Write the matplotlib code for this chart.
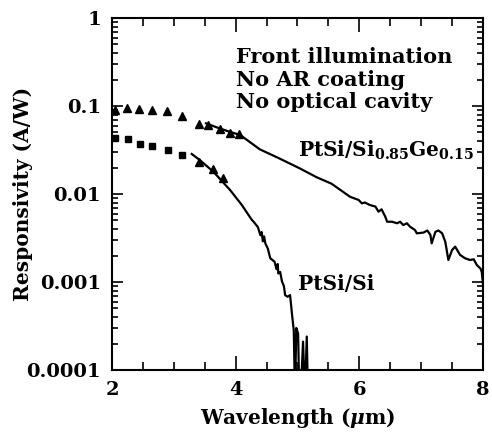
import matplotlib
matplotlib.use('Agg')
import matplotlib.pyplot as plt
from matplotlib.ticker import MultipleLocator, LogLocator, NullFormatter

# Data
# PtSi/Si0.85Ge0.15 : discrete points (triangles) and measured curve
sige_pts_x = [2.05, 2.24, 2.44, 2.64, 2.89, 3.14, 3.40, 3.56, 3.75, 3.91, 4.06]
sige_pts_y = [0.091, 0.094, 0.093, 0.091, 0.0887, 0.0776, 0.0623, 0.0608, 0.0546, 0.0499, 0.048]

sige_x = [3.52, 3.70, 3.90, 4.07, 4.25, 4.39, 4.70, 5.04, 5.31, 5.55,
          5.85, 5.99, 6.04, 6.09, 6.17, 6.26, 6.31, 6.36, 6.42, 6.45,
          6.53, 6.61, 6.66, 6.71, 6.77, 6.82, 6.90, 6.93, 7.04, 7.10,
          7.15, 7.17, 7.23, 7.28, 7.34, 7.39, 7.44, 7.50, 7.55, 7.63,
          7.71, 7.79, 7.85, 7.90, 7.96, 7.98, 8.00]
sige_y = [0.0636, 0.057, 0.051, 0.047, 0.038, 0.0322, 0.0255, 0.0195, 0.0155, 0.0131,
          0.0093, 0.00855, 0.00783, 0.0080, 0.0075, 0.0072, 0.0063, 0.0067, 0.00552, 0.00484,
          0.00484, 0.00465, 0.00484, 0.00444, 0.00465, 0.00425, 0.0039, 0.00357, 0.00365, 0.00385,
          0.00342, 0.00275, 0.00372, 0.00385, 0.00357, 0.00287, 0.00178, 0.00231, 0.00252, 0.00203,
          0.00186, 0.00178, 0.00181, 0.00156, 0.00142, 0.00130, 0.00095]

# PtSi/Si : squares, a few triangles on the curve, and measured curve
si_sq_x = [2.05, 2.26, 2.45, 2.64, 2.91, 3.14]
si_sq_y = [0.0431, 0.0419, 0.0369, 0.0354, 0.0316, 0.0277]

si_tri_x = [3.40, 3.64, 3.79]
si_tri_y = [0.0233, 0.019, 0.0151]

si_x = [3.29, 3.42, 3.64, 3.91, 4.10, 4.26, 4.29, 4.36, 4.40, 4.42,
        4.44, 4.46, 4.48, 4.52, 4.56, 4.63, 4.66, 4.68, 4.69, 4.72,
        4.75, 4.78, 4.80, 4.84, 4.88, 4.91, 4.94, 4.96, 4.98, 5.01,
        5.03, 5.05, 5.09, 5.12, 5.15, 5.17]
si_y = [0.0285, 0.0243, 0.0179, 0.0111, 0.0075, 0.0051, 0.00484, 0.0042, 0.0034, 0.0037,
        0.0029, 0.0033, 0.00275, 0.0024, 0.00186, 0.0017, 0.0014, 0.0016, 0.00125, 0.0013,
        0.00101, 0.0009, 0.00071, 0.00068, 0.00071, 0.00044, 0.00028, 0.00005, 0.0003, 0.00026,
        0.00005, 0.00005, 0.00021, 0.00005, 0.00024, 0.00005]

y_ticks = [1e-4, 1e-3, 1e-2, 1e-1, 1]
y_labels = ['0.0001', '0.001', '0.01', '0.1', '1']
x_ticks = [2, 4, 6, 8]
notes = ['Front illumination', 'No AR coating', 'No optical cavity']

plt.rcParams['font.family'] = 'DejaVu Serif'
plt.rcParams['font.weight'] = 'bold'
plt.rcParams['axes.labelweight'] = 'bold'
plt.rcParams['mathtext.fontset'] = 'dejavuserif'
plt.rcParams['font.size'] = 14

fig = plt.figure(figsize=(4.92, 4.37), dpi=100)
ax = fig.add_axes([0.2276, 0.1533, 0.7541, 0.8055])

ax.plot(sige_x, sige_y, color='black', linewidth=1.6)
ax.plot(si_x, si_y, color='black', linewidth=1.6)
ax.plot(sige_pts_x, sige_pts_y, linestyle='none', marker='^', color='black', markersize=6)
ax.plot(si_tri_x, si_tri_y, linestyle='none', marker='^', color='black', markersize=6)
ax.plot(si_sq_x, si_sq_y, linestyle='none', marker='s', color='black', markersize=5)

ax.set_yscale('log')
ax.set_xlim(2, 8)
ax.set_ylim(1e-4, 1)

ax.set_xticks(x_ticks)
ax.set_xticklabels([str(v) for v in x_ticks])
ax.xaxis.set_minor_locator(MultipleLocator(0.5))
ax.set_yticks(y_ticks)
ax.set_yticklabels(y_labels)
ax.yaxis.set_minor_locator(LogLocator(base=10, subs=range(2, 10)))
ax.yaxis.set_minor_formatter(NullFormatter())

ax.tick_params(axis='both', which='both', direction='in', top=True, right=True,
               width=1.2, color='black')
ax.tick_params(axis='x', which='major', length=10, pad=8)
ax.tick_params(axis='x', which='minor', length=5.5)
ax.tick_params(axis='y', which='major', length=8, pad=8)
ax.tick_params(axis='y', which='minor', length=4)
for s in ax.spines.values():
    s.set_linewidth(1.5)

ax.set_xlabel(r'Wavelength ($\mu$m)', fontsize=14.5, labelpad=5)
ax.set_ylabel('Responsivity (A/W)', fontsize=14.5)
ax.yaxis.set_label_coords(-0.213, 0.5)

for i, t in enumerate(notes):
    ax.text(0.333, 0.889 - i * 0.064, t, transform=ax.transAxes,
            ha='left', va='center', fontsize=15)

ax.text(5.01, 0.0316, r'PtSi/Si$_{\mathbf{0.85}}$Ge$_{\mathbf{0.15}}$',
        fontsize=14.5, ha='left', va='center')
ax.text(5.01, 0.00095, 'PtSi/Si', fontsize=14.5, ha='left', va='center')

plt.savefig('out.png', dpi=100)
